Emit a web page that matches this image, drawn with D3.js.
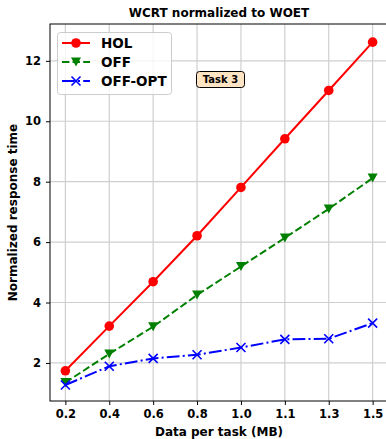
<!DOCTYPE html>
<html>
<head>
<meta charset="utf-8">
<script src="https://cdn.jsdelivr.net/npm/d3@7"></script>
<style>
  body { margin: 0; background: #fff; }
  text { font-family: "DejaVu Sans", sans-serif; font-weight: bold; }
</style>
</head>
<body>
<script>
var categories = ["0.2", "0.4", "0.6", "0.8", "1.0", "1.1", "1.3", "1.5"];
var hol    = [1.74, 3.22, 4.69, 6.21, 7.81, 9.42, 11.02, 12.62];
var off    = [1.35, 2.30, 3.20, 4.25, 5.19, 6.14, 7.10, 8.12];
var offOpt = [1.27, 1.89, 2.15, 2.27, 2.51, 2.78, 2.80, 3.32];
var yTicks = [2, 4, 6, 8, 10, 12];

var width = 386, height = 439;
var plotLeft = 50, plotRight = 388, plotTop = 24, plotBottom = 401;

var svg = d3.select("body").append("svg")
    .attr("width", width)
    .attr("height", height);

var x = d3.scalePoint()
    .domain(categories)
    .range([plotLeft, plotRight])
    .padding(0.35);

var y = d3.scaleLinear()
    .domain([0.74, 13.22])
    .range([plotBottom, plotTop]);

// grid
svg.append("g").selectAll("line")
    .data(categories)
    .enter().append("line")
    .attr("x1", function(d) { return x(d); })
    .attr("x2", function(d) { return x(d); })
    .attr("y1", plotTop).attr("y2", plotBottom)
    .attr("stroke", "#cfcfcf")
    .attr("stroke-width", 1.2);

svg.append("g").selectAll("line")
    .data(yTicks)
    .enter().append("line")
    .attr("x1", plotLeft).attr("x2", plotRight)
    .attr("y1", function(d) { return y(d); })
    .attr("y2", function(d) { return y(d); })
    .attr("stroke", "#cfcfcf")
    .attr("stroke-width", 1.2);

// axes
var xAxis = svg.append("g")
    .attr("transform", "translate(0," + plotBottom + ")")
    .call(d3.axisBottom(x).tickSize(4).tickPadding(5));
var yAxis = svg.append("g")
    .attr("transform", "translate(" + plotLeft + ",0)")
    .call(d3.axisLeft(y).tickValues(yTicks).tickSize(4).tickPadding(5));

[xAxis, yAxis].forEach(function(a) {
    a.select(".domain").remove();
    a.selectAll("text")
        .attr("font-family", "DejaVu Sans")
        .attr("font-weight", "bold")
        .attr("font-size", 11.5)
        .attr("fill", "#000");
    a.selectAll(".tick line").attr("stroke", "#000").attr("stroke-width", 1);
});

// spines
svg.append("rect")
    .attr("x", plotLeft).attr("y", plotTop)
    .attr("width", plotRight - plotLeft).attr("height", plotBottom - plotTop)
    .attr("fill", "none")
    .attr("stroke", "#000")
    .attr("stroke-width", 1);

// lines
var series = [
    { name: "HOL", values: hol, color: "red", dash: null, marker: "circle" },
    { name: "OFF", values: off, color: "green", dash: "7.4,3.2", marker: "tri" },
    { name: "OFF-OPT", values: offOpt, color: "blue", dash: "12.8,3.2,2,3.2", marker: "x" }
];

var line = d3.line()
    .x(function(d, i) { return x(categories[i]); })
    .y(function(d) { return y(d); });

function drawMarker(g, type, color) {
    if (type === "circle") {
        g.append("circle").attr("r", 4.8).attr("fill", color);
    } else if (type === "tri") {
        g.append("path").attr("d", "M-5,-4.5 L5,-4.5 L0,4.5 Z").attr("fill", color);
    } else {
        g.append("path").attr("d", "M-4.5,-4.5 L4.5,4.5 M-4.5,4.5 L4.5,-4.5")
            .attr("stroke", color).attr("stroke-width", 1.6).attr("fill", "none");
    }
}

series.forEach(function(s) {
    svg.append("path")
        .datum(s.values)
        .attr("d", line)
        .attr("fill", "none")
        .attr("stroke", s.color)
        .attr("stroke-width", 2)
        .attr("stroke-dasharray", s.dash);

    svg.append("g").selectAll("g")
        .data(s.values)
        .enter().append("g")
        .attr("transform", function(d, i) { return "translate(" + x(categories[i]) + "," + y(d) + ")"; })
        .each(function() { drawMarker(d3.select(this), s.marker, s.color); });
});

// legend
var legend = svg.append("g");
legend.append("rect")
    .attr("x", 57.5).attr("y", 32.5)
    .attr("width", 114).attr("height", 62)
    .attr("rx", 3)
    .attr("fill", "#fff").attr("fill-opacity", 0.8)
    .attr("stroke", "#ccc");

series.forEach(function(s, i) {
    var ly = 43 + i * 19;
    legend.append("line")
        .attr("x1", 62).attr("x2", 90)
        .attr("y1", ly).attr("y2", ly)
        .attr("stroke", s.color)
        .attr("stroke-width", 2)
        .attr("stroke-dasharray", s.dash);
    var m = legend.append("g").attr("transform", "translate(76," + ly + ")");
    drawMarker(m, s.marker, s.color);
    legend.append("text")
        .attr("x", 101).attr("y", ly)
        .attr("dy", "0.36em")
        .attr("font-size", 13.5)
        .text(s.name);
});

// annotation
svg.append("rect")
    .attr("x", 196.5).attr("y", 71.5)
    .attr("width", 48).attr("height", 16)
    .attr("rx", 3)
    .attr("fill", "#ffe4c4")
    .attr("stroke", "#000");
svg.append("text")
    .attr("x", 220.5).attr("y", 79.5)
    .attr("dy", "0.36em")
    .attr("text-anchor", "middle")
    .attr("font-size", 10)
    .text("Task 3");

// titles
svg.append("text")
    .attr("x", (plotLeft + plotRight) / 2).attr("y", 17)
    .attr("text-anchor", "middle")
    .attr("font-size", 12)
    .text("WCRT normalized to WOET");

svg.append("text")
    .attr("x", (plotLeft + plotRight) / 2).attr("y", 436)
    .attr("text-anchor", "middle")
    .attr("font-size", 12)
    .text("Data per task (MB)");

svg.append("text")
    .attr("transform", "translate(17," + (plotTop + plotBottom) / 2 + ") rotate(-90)")
    .attr("text-anchor", "middle")
    .attr("font-size", 12)
    .text("Normalized response time");
</script>
</body>
</html>
